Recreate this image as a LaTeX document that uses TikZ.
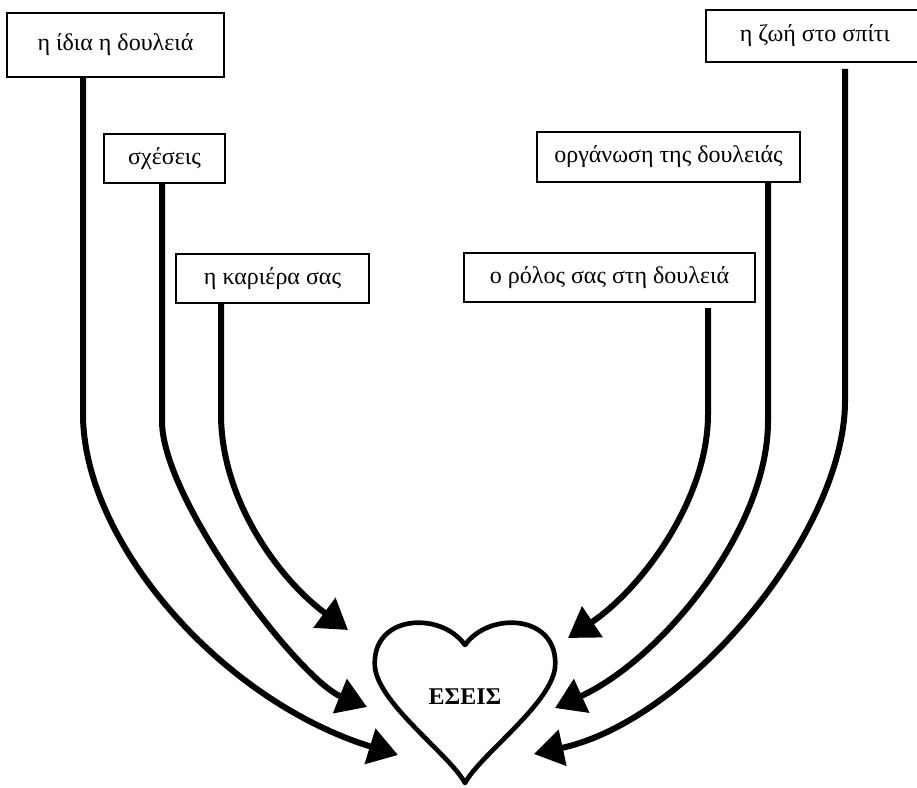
\documentclass[tikz,border=0pt]{standalone}
\usepackage{fontspec}
\setmainfont{Liberation Serif}
\usetikzlibrary{arrows.meta,calc}
\tikzset{
  factor/.style={draw, line width=1.5pt, inner sep=0.75pt, font=\fontsize{18}{20}\selectfont},
  feed/.style={line width=4.5pt, -{Triangle[length=22pt,width=27pt]}},
}
\begin{document}
\begin{tikzpicture}[x=0.75pt,y=0.75pt,yscale=-1,xscale=1]
    \useasboundingbox (0,0) rectangle (917,788);

    % Text Node
    \node (work) [factor, minimum width=162.75pt, minimum height=48pt] at (115.5,45) {η ίδια η δουλειά};
    % Text Node
    \node (rel) [factor, minimum width=90.75pt, minimum height=36.75pt] at (164.5,158.5) {σχέσεις};
    % Text Node
    \node (career) [factor, minimum width=144.75pt, minimum height=36.75pt] at (272.5,278.5) {η καριέρα σας};
    % Text Node
    \node (role) [factor, minimum width=218.25pt, minimum height=36.75pt] at (609.5,277.5) {ο ρόλος σας στη δουλειά};
    % Text Node
    \node (org) [factor, minimum width=197.25pt, minimum height=37.5pt] at (668.5,157) {οργάνωση της δουλειάς};
    % Text Node
    \node (home) [factor, minimum width=163.5pt, minimum height=39pt] at (815,36) {η ζωή στο σπίτι};

    %Shape: Heart
    \draw [line width=3.5pt, line join=round] (465,645) .. controls (490,610) and (560,615) .. (555,668) .. controls (550,705) and (480,755) .. (465,783) .. controls (450,755) and (380,705) .. (375,668) .. controls (370,615) and (440,610) .. (465,645) -- cycle;
    % Text Node
    \node (you) [font=\fontsize{18}{20}\selectfont\bfseries] at (465,697) {ΕΣΕΙΣ};

    % arrow ends at the heart
    \coordinate (t1) at (398,755);
    \coordinate (t2) at (367,707);
    \coordinate (t3) at (348,630);
    \coordinate (t4) at (568,638);
    \coordinate (t5) at (555,708);
    \coordinate (t6) at (534,754);

    %Curve Lines
    \draw [feed] ($(work.south)+(-32.5,0)$) -- ++(0,336) .. controls +(0,127) and (220,700) .. (t1);
    \draw [feed] ($(rel.south)+(-2.5,0)$) -- ++(0,237) .. controls +(0,80) and (300,680) .. (t2);
    \draw [feed] ($(career.south)+(-51.5,0)$) -- ++(0,110) .. controls +(0,87) and (280,580) .. (t3);
    \draw [feed] ($(role.south)+(98.5,5)$) -- ++(0,106) .. controls +(0,87) and (640,590) .. (t4);
    \draw [feed] ($(org.south)+(99.5,0)$) -- ++(0,238) .. controls +(0,110) and (660,660) .. (t5);
    \draw [feed] ($(home.south)+(30,6)$) -- ++(0,332) .. controls +(0,130) and (690,720) .. (t6);

\end{tikzpicture}
\end{document}
